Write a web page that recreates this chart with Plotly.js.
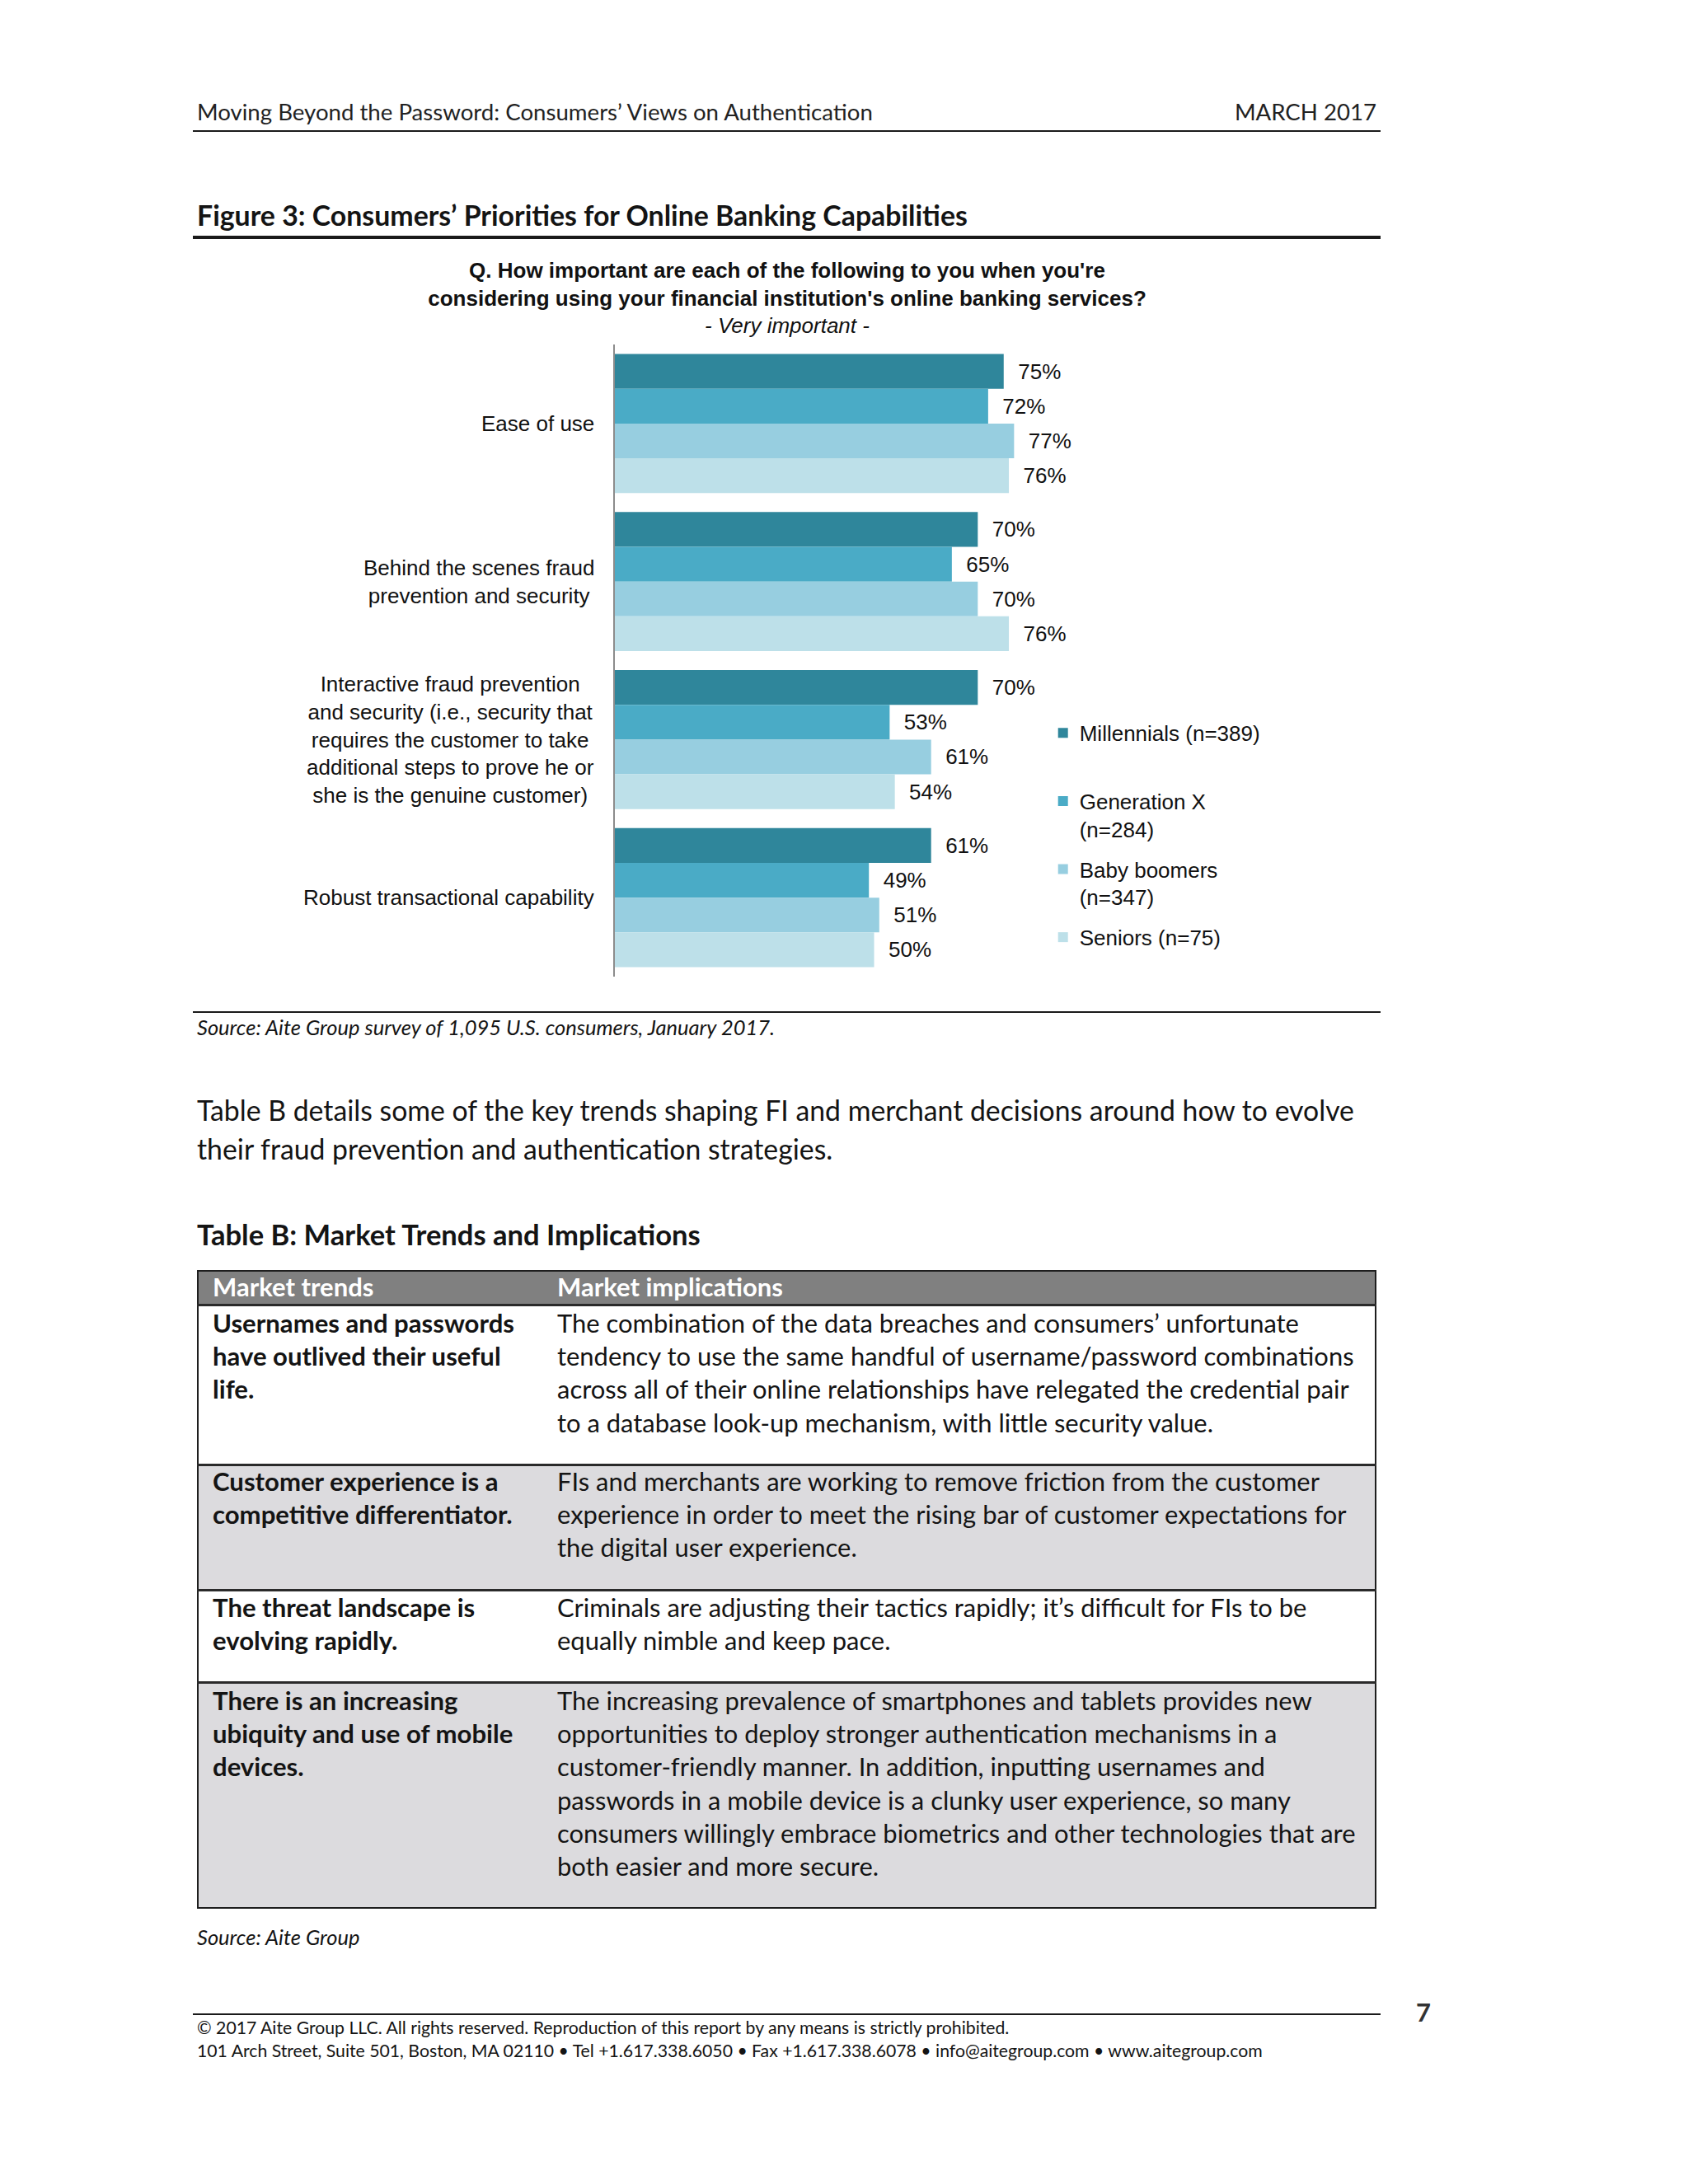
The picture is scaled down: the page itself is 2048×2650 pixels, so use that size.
<!DOCTYPE html>
<html>
<head>
<meta charset="utf-8">
<script src="https://cdn.plot.ly/plotly-3.0.1.min.js"></script>
<style>
html,body{margin:0;padding:0;background:#fff;}
#page{position:relative;width:2048px;height:2650px;overflow:hidden;font-family:Lato,"Open Sans",sans-serif;color:#141414;
  --head:30px;--ftitle:32px;--src:28px;--body:32px;--tbody:32px;--tbold:32px;--ttitle:32px;--th:32px;--foot:24px;}
.t{position:absolute;white-space:nowrap;line-height:1;display:inline-block;}
.head{font-size:var(--head);color:#222;}
.ftitle{font-size:var(--ftitle);font-weight:700;}
.src{font-size:var(--src);font-style:italic;}
.body{font-size:var(--body);}
.tbody{font-size:var(--tbody);}
.tbold{font-size:var(--tbold);font-weight:700;}
.ttitle{font-size:var(--ttitle);font-weight:700;}
.th{font-size:var(--th);font-weight:700;color:#fff;}
.foot{font-size:var(--foot);}
.pnum{font-size:31px;font-weight:700;color:#333;}
.rule{position:absolute;background:#1a1a1a;}
.box{position:absolute;box-sizing:border-box;}
#chart{position:absolute;left:0;top:300px;width:2048px;height:920px;}
</style>
</head>
<body>
<div id="page">
  <div id="chart"></div>
</div>
<script>
// ---------------- chart data ----------------
const categories = [
  'Ease of use',
  'Behind the scenes fraud<br>prevention and security',
  'Interactive fraud prevention<br>and security (i.e., security that<br>requires the customer to take<br>additional steps to prove he or<br>she is the genuine customer)',
  'Robust transactional capability'
];
const seriesNames = ['Millennials (n=389)', 'Generation X<br>(n=284)', 'Baby boomers<br>(n=347)', 'Seniors (n=75)'];
const millennials = [75, 70, 70, 61];
const generationX = [72, 65, 53, 49];
const babyBoomers = [77, 70, 61, 51];
const seniors = [76, 76, 54, 50];
const seriesColors = ['#2f869b', '#4aabc6', '#97cee0', '#bde0e9'];
const chartTitle = ['Q. How important are each of the following to you when you\'re',
                    'considering using your financial institution\'s online banking services?',
                    '- Very important -'];

// ---------------- page text ----------------
const headerLeft = 'Moving Beyond the Password: Consumers’ Views on Authentication';
const headerRight = 'MARCH 2017';
const figureTitle = 'Figure 3: Consumers’ Priorities for Online Banking Capabilities';
const figureSource = 'Source: Aite Group survey of 1,095 U.S. consumers, January 2017.';
const paragraph = ['Table B details some of the key trends shaping FI and merchant decisions around how to evolve',
                   'their fraud prevention and authentication strategies.'];
const tableTitle = 'Table B: Market Trends and Implications';
const tableHeader = ['Market trends', 'Market implications'];
const tableRows = [
  [['Usernames and passwords','have outlived their useful','life.'],
   ['The combination of the data breaches and consumers’ unfortunate',
    'tendency to use the same handful of username/password combinations',
    'across all of their online relationships have relegated the credential pair',
    'to a database look-up mechanism, with little security value.']],
  [['Customer experience is a','competitive differentiator.'],
   ['FIs and merchants are working to remove friction from the customer',
    'experience in order to meet the rising bar of customer expectations for',
    'the digital user experience.']],
  [['The threat landscape is','evolving rapidly.'],
   ['Criminals are adjusting their tactics rapidly; it’s difficult for FIs to be',
    'equally nimble and keep pace.']],
  [['There is an increasing','ubiquity and use of mobile','devices.'],
   ['The increasing prevalence of smartphones and tablets provides new',
    'opportunities to deploy stronger authentication mechanisms in a',
    'customer-friendly manner. In addition, inputting usernames and',
    'passwords in a mobile device is a clunky user experience, so many',
    'consumers willingly embrace biometrics and other technologies that are',
    'both easier and more secure.']]
];
const tableSource = 'Source: Aite Group';
const footer = ['© 2017 Aite Group LLC. All rights reserved. Reproduction of this report by any means is strictly prohibited.',
                '101 Arch Street, Suite 501, Boston, MA 02110 • Tel +1.617.338.6050 • Fax +1.617.338.6078 • info@aitegroup.com • www.aitegroup.com'];
const pageNumber = '7';

// ---------------- layout helpers ----------------
const page = document.getElementById('page');
function txt(s, x, cy, cls, right) {
  const e = document.createElement('span');
  e.className = 't ' + cls;
  e.textContent = s;
  if (right) e.style.right = (2048 - x) + 'px'; else e.style.left = x + 'px';
  e.style.top = 'calc(' + cy + 'px - 0.58em)';
  page.appendChild(e);
  return e;
}
function rect(x, y, w, h, color, cls) {
  const e = document.createElement('div');
  e.className = cls || 'rule';
  e.style.left = x + 'px'; e.style.top = y + 'px';
  e.style.width = w + 'px'; e.style.height = h + 'px';
  if (color) e.style.background = color;
  page.appendChild(e);
  return e;
}

const refs = {};
refs.head = txt(headerLeft, 239, 138, 'head');
txt(headerRight, 1670, 138, 'head', true);
rect(234, 158, 1441, 2);
refs.ftitle = txt(figureTitle, 239, 265, 'ftitle');
rect(234, 286, 1441, 4);

rect(234, 1227, 1441, 2);
refs.src = txt(figureSource, 239, 1249, 'src');
refs.body = txt(paragraph[0], 239, 1351, 'body');
txt(paragraph[1], 239, 1398, 'body');
refs.ttitle = txt(tableTitle, 239, 1501, 'ttitle');

// table
const tTop = 1541, tLeft = 239, tRight = 1670;
const rowEdges = [1541, 1583, 1777, 1929, 2041, 2316];
const rowFill = ['#808080', '#ffffff', '#dcdbde', '#ffffff', '#dcdbde'];
for (let i = 0; i < 5; i++) rect(tLeft, rowEdges[i], tRight - tLeft, rowEdges[i + 1] - rowEdges[i], rowFill[i], 'box');
const ob = rect(tLeft, tTop, tRight - tLeft, 2316 - tTop, 'transparent', 'box');
ob.style.border = '2px solid #1e1e1e';
for (let i = 1; i < 5; i++) rect(tLeft, rowEdges[i] - 1, tRight - tLeft, 3, '#2a2a2a');
txt(tableHeader[0], 258, 1564, 'th');
refs.th = txt(tableHeader[1], 676, 1564, 'th');
const firstLine = [1608, 1800, 1953, 2066];
const pitch = 40.2;
tableRows.forEach((row, r) => {
  row[0].forEach((s, k) => { const e = txt(s, 258, firstLine[r] + k * pitch, 'tbold'); if (r === 0 && k === 0) refs.tbold = e; });
  row[1].forEach((s, k) => { const e = txt(s, 676, firstLine[r] + k * pitch, 'tbody'); if (r === 0 && k === 1) refs.tbody = e; });
});
txt(tableSource, 239, 2353, 'src');
rect(234, 2443, 1441, 2);
const pn = txt(pageNumber, 1727, 2444, 'pnum');
pn.style.transform = 'translateX(-50%)';
txt(footer[0], 239, 2462, 'foot');
refs.foot = txt(footer[1], 239, 2490, 'foot');

// fit font sizes so reference lines match target widths
const targets = {head: 820, ftitle: 935, src: 701, body: 1404, tbody: 967, ttitle: 611, th: 274, tbold: 366, foot: 1293};
Object.keys(targets).forEach(k => {
  const cur = parseFloat(getComputedStyle(refs[k]).fontSize);
  const w = refs[k].getBoundingClientRect().width;
  page.style.setProperty('--' + k, (cur * targets[k] / w).toFixed(2) + 'px');
});

// ---------------- chart ----------------
const seriesValues = [millennials, generationX, babyBoomers, seniors];
const FONT = 'Liberation Sans, Arial, sans-serif';
const traces = seriesValues.map((vals, i) => ({
  type: 'bar',
  orientation: 'h',
  name: i === 0 ? seriesNames[i] + '<br>\u00a0' : seriesNames[i],
  legendgroup: 'g' + i,
  y: categories,
  x: vals,
  marker: {color: seriesColors[i], line: {width: 0}},
  texttemplate: '\u00a0\u00a0%{x}%',
  textposition: 'outside',
  constraintext: 'none',
  cliponaxis: false,
  textfont: {family: FONT, size: 26, color: '#111'},
  hoverinfo: 'skip'
}));

const annotations = categories.map(c => ({
  x: 0, xref: 'paper', xanchor: 'right', xshift: -23,
  y: c, yref: 'y', yanchor: 'middle',
  text: c, showarrow: false, align: 'center',
  font: {family: FONT, size: 26, color: '#111'}
}));

const layout = {
  width: 2048, height: 920,
  margin: {l: 746, r: 773, t: 118, b: 35, pad: 0},
  paper_bgcolor: 'rgba(0,0,0,0)',
  plot_bgcolor: 'rgba(0,0,0,0)',
  barmode: 'group',
  bargap: 0.12,
  bargroupgap: 0,
  font: {family: FONT, size: 26, color: '#111'},
  title: {
    text: '<b>' + chartTitle[0] + '</b><br><b>' + chartTitle[1] + '</b><br><i>' + chartTitle[2] + '</i>',
    x: 955 / 2048, xanchor: 'center', xref: 'container',
    y: 0.96, yanchor: 'top', yref: 'container',
    font: {family: FONT, size: 26, color: '#111'}
  },
  xaxis: {range: [0, 84.1], visible: false, showgrid: false, zeroline: false, fixedrange: true},
  yaxis: {type: 'category', categoryorder: 'array', categoryarray: categories, range: [3.5, -0.5],
          showticklabels: false, ticks: '', showgrid: false, zeroline: false,
          showline: true, linecolor: '#8c8c8c', linewidth: 2, fixedrange: true},
  showlegend: true,
  legend: {x: 0.99, xanchor: 'left', y: 0.416, yanchor: 'top', valign: 'top',
           traceorder: 'grouped', tracegroupgap: 12, bgcolor: 'rgba(0,0,0,0)',
           font: {family: FONT, size: 26, color: '#111'}},
  annotations: annotations
};
Plotly.newPlot('chart', traces, layout, {displayModeBar: false, staticPlot: true});
</script>
</body>
</html>
